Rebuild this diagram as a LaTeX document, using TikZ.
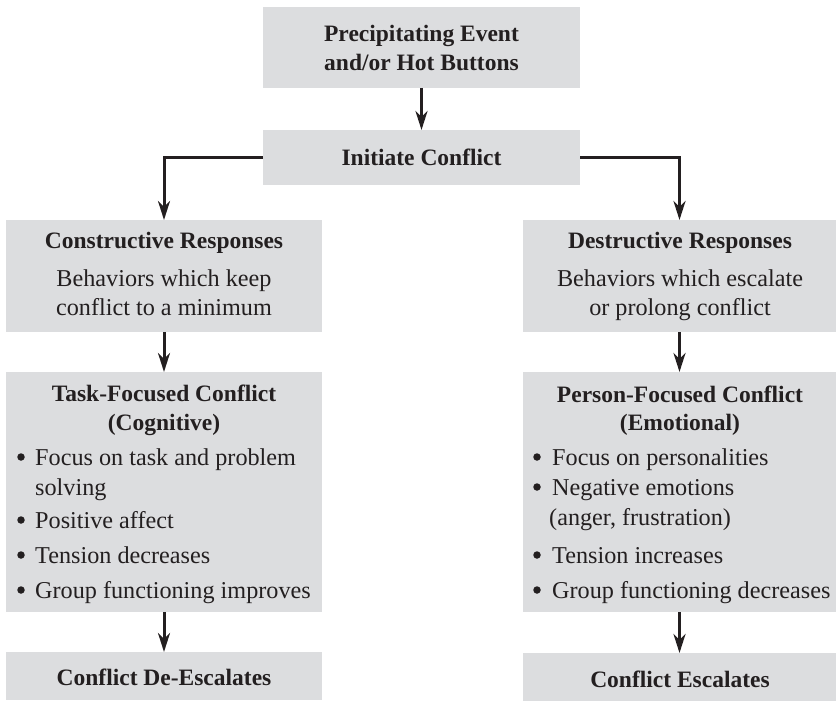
\documentclass[tikz,border=0pt]{standalone}
\usepackage{fontspec}
\setmainfont{Liberation Serif}
\usetikzlibrary{arrows.meta}
\definecolor{boxgray}{RGB}{220,221,223}
\definecolor{ink}{RGB}{35,31,32}
\tikzset{
  box/.style={fill=boxgray, draw=none, inner sep=0pt, outer sep=0pt},
  hd/.style={font=\bfseries\fontsize{23.5}{28}\selectfont, text=ink, anchor=base, inner sep=0pt},
  tx/.style={font=\fontsize{24.2}{29}\selectfont, text=ink, anchor=base, inner sep=0pt},
  txl/.style={tx, anchor=base west},
  bul/.style={circle, fill=ink, draw=none, inner sep=0pt, minimum size=7.5pt},
  arr/.style={draw=ink, line width=3pt, -{Stealth[length=19pt,width=12pt,inset=6pt]}}
}
\begin{document}
\begin{tikzpicture}[x=1pt,y=-1pt]
\useasboundingbox (0,0) rectangle (836,701);
% boxes
\node[box, minimum width=317pt, minimum height=81pt] (top) at (421.5,47.5) {};
\node[box, minimum width=317pt, minimum height=55pt] (init) at (421.5,157.5) {};
\node[box, minimum width=316pt, minimum height=112pt] (cons) at (164,276) {};
\node[box, minimum width=313pt, minimum height=112pt] (dest) at (679.5,276) {};
\node[box, minimum width=316pt, minimum height=240pt] (task) at (164,492) {};
\node[box, minimum width=313pt, minimum height=240pt] (pers) at (679.5,492) {};
\node[box, minimum width=316pt, minimum height=48pt] (desc) at (164,676) {};
\node[box, minimum width=313pt, minimum height=48pt] (esc) at (679.5,677) {};
% arrows
\draw[arr] (top.south) -- (init.north);
\draw[arr] (init.west) -| (cons.north);
\draw[arr] (init.east) -| (dest.north);
\draw[arr] (cons.south) -- (task.north);
\draw[arr] (dest.south) -- (pers.north);
\draw[arr] (task.south) -- (desc.north);
\draw[arr] (pers.south) -- (esc.north);
% top texts
\node[hd] (t1) at (421.5,41.7) {Precipitating Event};
\node[hd] (t2) at (421.5,70.7) {and/or Hot Buttons};
\node[hd] (i1) at (421.5,165) {Initiate Conflict};
% constructive
\node[hd] (c1) at (164,248) {Constructive Responses};
\node[tx] (c2) at (164,286) {Behaviors which keep};
\node[tx] (c3) at (164,315) {conflict to a minimum};
% destructive
\node[hd] (d1) at (680,248) {Destructive Responses};
\node[tx] (d2) at (680,286) {Behaviors which escalate};
\node[tx] (d3) at (680,315) {or prolong conflict};
% task-focused
\node[hd] (k1) at (164,401.7) {Task-Focused Conflict};
\node[hd] (k2) at (164,430) {(Cognitive)};
\node[bul] (kb1) at (21,457) {};
\node[txl] (k3) at (35,465) {Focus on task and problem};
\node[txl] (k4) at (35,495) {solving};
\node[bul] (kb2) at (21,520) {};
\node[txl] (k5) at (35,528) {Positive affect};
\node[bul] (kb3) at (21,555) {};
\node[txl] (k6) at (35,563) {Tension decreases};
\node[bul] (kb4) at (21,590) {};
\node[txl] (k7) at (35,598) {Group functioning improves};
% person-focused
\node[hd] (p1) at (680,402) {Person-Focused Conflict};
\node[hd] (p2) at (680,430) {(Emotional)};
\node[bul] (pb1) at (537,457) {};
\node[txl] (p3) at (552,465) {Focus on personalities};
\node[bul] (pb2) at (537,487) {};
\node[txl] (p4) at (552,495) {Negative emotions};
\node[txl] (p5) at (549,525) {(anger, frustration)};
\node[bul] (pb3) at (537,555) {};
\node[txl] (p6) at (552,563) {Tension increases};
\node[bul] (pb4) at (537,590) {};
\node[txl] (p7) at (552,598) {Group functioning decreases};
% bottom
\node[hd] (b1) at (164,685) {Conflict De-Escalates};
\node[hd] (b2) at (680,687) {Conflict Escalates};
\end{tikzpicture}
\end{document}
